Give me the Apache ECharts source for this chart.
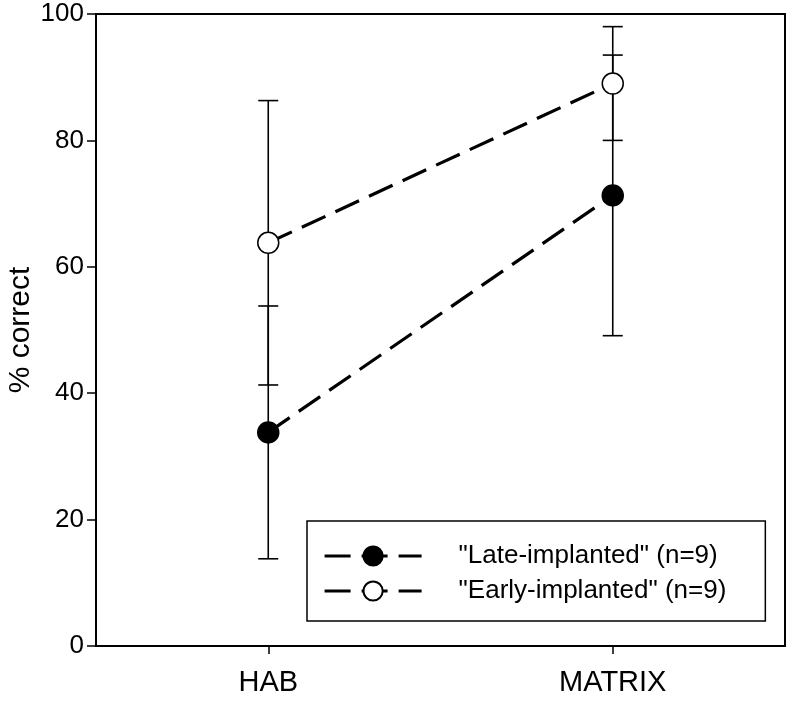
<!DOCTYPE html>
<html>
<head>
<meta charset="utf-8">
<script src="https://cdn.jsdelivr.net/npm/echarts@6/dist/echarts.min.js"></script>
<style>
  html, body { margin: 0; padding: 0; background: #fff; }
  #myChart { width: 789px; height: 701px; }
</style>
</head>
<body>
<div id="myChart"></div>
<script>
  // categories sit at x = 1, 2 on a value axis
  var categories = ['HAB', 'MATRIX']
  var catPos = [1, 2]
  var lateMean = [33.8, 71.3]
  var lateErr = [20.0, 22.2]
  var earlyMean = [63.8, 89.0]
  var earlyErr = [22.5, 9.0]
  var yTicks = [0, 20, 40, 60, 80, 100]
  var seriesNames = ['"Late-implanted" (n=9)', '"Early-implanted" (n=9)']

  function points (means) {
    var out = []
    for (var i = 0; i < means.length; i++) out.push([catPos[i], means[i]])
    return out
  }
  function bars (means, errs) {
    var out = []
    for (var i = 0; i < means.length; i++) out.push([catPos[i], means[i] - errs[i], means[i] + errs[i]])
    return out
  }

  function errorItem (params, api) {
    var x = api.value(0)
    var lo = api.coord([x, api.value(1)])
    var hi = api.coord([x, api.value(2)])
    var half = 10
    var st = { stroke: '#000', lineWidth: 1.6 }
    return {
      type: 'group',
      children: [
        { type: 'line', shape: { x1: lo[0], y1: lo[1], x2: hi[0], y2: hi[1] }, style: st },
        { type: 'line', shape: { x1: lo[0] - half, y1: lo[1], x2: lo[0] + half, y2: lo[1] }, style: st },
        { type: 'line', shape: { x1: hi[0] - half, y1: hi[1], x2: hi[0] + half, y2: hi[1] }, style: st }
      ]
    }
  }

  var fontFam = '"Liberation Sans", Arial, sans-serif'

  var option = {
    animation: false,
    textStyle: { fontFamily: fontFam, color: '#000' },
    grid: {
      left: 96,
      right: 4,
      top: 14,
      bottom: 55,
      outerBoundsMode: 'none',
      containLabel: false,
      show: true,
      borderColor: '#000',
      borderWidth: 2,
      backgroundColor: 'transparent'
    },
    legend: {
      left: 307,
      top: 521,
      orient: 'vertical',
      data: seriesNames,
      itemWidth: 97,
      itemHeight: 24,
      itemGap: 9,
      padding: [22, 39, 17, 16],
      borderColor: '#000',
      borderWidth: 1.5,
      lineStyle: { width: 3.2, type: [26, 11] },
      textStyle: { fontSize: 26, color: '#000', fontFamily: fontFam, padding: [0, 0, 0, 32] }
    },
    xAxis: {
      type: 'value',
      min: 0.5,
      max: 2.5,
      splitLine: { show: false },
      axisLine: { lineStyle: { color: '#000', width: 2 } },
      axisTick: { customValues: catPos, length: 8, lineStyle: { color: '#000', width: 1.5 } },
      axisLabel: {
        customValues: catPos,
        fontSize: 29,
        color: '#000',
        margin: 22,
        formatter: function (v) { return categories[catPos.indexOf(v)] }
      }
    },
    yAxis: {
      type: 'value',
      min: yTicks[0],
      max: yTicks[yTicks.length - 1],
      interval: 20,
      name: '% correct',
      nameLocation: 'middle',
      nameRotate: 90,
      nameGap: 60,
      nameMoveOverlap: false,
      nameTextStyle: { fontSize: 30, color: '#000' },
      splitLine: { show: false },
      axisLine: { lineStyle: { color: '#000', width: 2 } },
      axisTick: { length: 9, lineStyle: { color: '#000', width: 1.5 } },
      axisLabel: { fontSize: 26, color: '#000', margin: 12 }
    },
    series: [
      {
        type: 'custom',
        renderItem: errorItem,
        data: bars(lateMean, lateErr),
        z: 1,
        silent: true
      },
      {
        type: 'custom',
        renderItem: errorItem,
        data: bars(earlyMean, earlyErr),
        z: 1,
        silent: true
      },
      {
        name: seriesNames[0],
        type: 'line',
        data: points(lateMean),
        z: 3,
        symbol: 'circle',
        symbolSize: 21,
        lineStyle: { color: '#000', width: 3.2, type: [26, 11] },
        itemStyle: { color: '#000', borderColor: '#000', borderWidth: 1.5 }
      },
      {
        name: seriesNames[1],
        type: 'line',
        data: points(earlyMean),
        z: 3,
        symbol: 'circle',
        symbolSize: 21,
        lineStyle: { color: '#000', width: 3.2, type: [26, 11] },
        itemStyle: { color: '#fff', borderColor: '#000', borderWidth: 1.5 }
      }
    ]
  }

  var myChart = echarts.init(document.getElementById('myChart'))
  myChart.setOption(option)
</script>
</body>
</html>
